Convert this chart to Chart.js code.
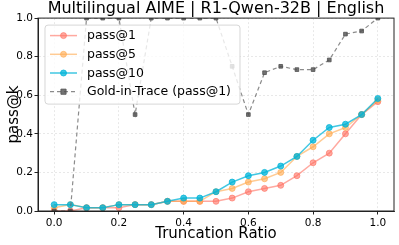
<!DOCTYPE html>
<html>
<head>
<meta charset="utf-8">
<script src="https://cdn.jsdelivr.net/npm/chart.js@4"></script>
<style>
  html, body { margin: 0; padding: 0; background: #fff; }
  #chart { display: block; }
</style>
</head>
<body>
<canvas id="chart" width="399" height="245"></canvas>
<script>
// Data
const ratios = [0.0, 0.05, 0.1, 0.15, 0.2, 0.25, 0.3, 0.35, 0.4, 0.45, 0.5,
                0.55, 0.6, 0.65, 0.7, 0.75, 0.8, 0.85, 0.9, 0.95, 1.0];
const pass1 = [0.0, 0.0, 0.017, 0.017, 0.017, 0.033, 0.033, 0.05, 0.05, 0.05, 0.05,
               0.067, 0.1, 0.117, 0.133, 0.183, 0.25, 0.3, 0.4, 0.5, 0.567];
const pass5 = [0.017, 0.033, 0.017, 0.017, 0.033, 0.033, 0.033, 0.05, 0.05, 0.05, 0.1,
               0.117, 0.15, 0.167, 0.2, 0.283, 0.333, 0.4, 0.433, 0.5, 0.575];
const pass10 = [0.033, 0.033, 0.017, 0.017, 0.033, 0.033, 0.033, 0.05, 0.067, 0.067, 0.1,
                0.15, 0.183, 0.2, 0.233, 0.283, 0.367, 0.433, 0.45, 0.5, 0.583];
const goldInTrace = [0.0, 0.0, 1.0, 1.0, 1.0, 0.5, 1.0, 1.0, 1.0, 1.0, 1.0,
                     0.75, 0.5, 0.717, 0.75, 0.733, 0.733, 0.783, 0.917, 0.933, 1.0];
const xTicks = [0.0, 0.2, 0.4, 0.6, 0.8, 1.0];
const yTicks = [0.0, 0.2, 0.4, 0.6, 0.8, 1.0];

Chart.defaults.font.family = "'DejaVu Sans', sans-serif";
Chart.defaults.color = '#000';

const toPoints = ys => ratios.map((x, i) => ({x: x, y: ys[i]}));

const series = function(label, ys, color, order) {
    return {
        label: label,
        data: toPoints(ys),
        borderColor: color,
        backgroundColor: color,
        pointBackgroundColor: color,
        pointBorderColor: color,
        borderWidth: 1.5,
        pointRadius: 3,
        pointBorderWidth: 1,
        pointStyle: 'circle',
        clip: 0,
        order: order
    };
}

// Top/right spines like the matplotlib frame
const framePlugin = {
    id: 'frame',
    afterDatasetsDraw(chart) {
        const {ctx, chartArea: a} = chart;
        ctx.save();
        ctx.strokeStyle = '#222';
        ctx.lineWidth = 1;
        ctx.strokeRect(a.left, a.top, a.right - a.left, a.bottom - a.top);
        ctx.restore();
    }
};

// Legend boxed inside the upper left of the plot
const insideLegend = {
    id: 'insideLegend',
    afterDraw(chart) {
        const {ctx, chartArea: a} = chart;
        const x0 = a.left + 7, y0 = a.top + 7;
        const w = 195, h = 79, rowH = 18.7;
        ctx.save();
        ctx.beginPath();
        ctx.roundRect(x0, y0, w, h, 3);
        ctx.fillStyle = 'rgba(255,255,255,0.8)';
        ctx.fill();
        ctx.strokeStyle = 'rgba(204,204,204,0.8)';
        ctx.lineWidth = 1;
        ctx.stroke();

        const ds = chart.data.datasets;
        ds.forEach((d, i) => {
            const y = y0 + 10.5 + i * rowH;
            const mx = x0 + 18.5;
            ctx.strokeStyle = d.borderColor;
            ctx.lineWidth = d.borderWidth;
            ctx.setLineDash(d.borderDash || []);
            ctx.beginPath();
            ctx.moveTo(x0 + 5, y);
            ctx.lineTo(x0 + 32, y);
            ctx.stroke();
            ctx.setLineDash([]);

            ctx.fillStyle = d.pointBackgroundColor;
            ctx.strokeStyle = d.pointBorderColor;
            ctx.lineWidth = d.pointBorderWidth;
            ctx.beginPath();
            if (d.pointStyle === 'rect') {
                ctx.rect(mx - d.pointRadius, y - d.pointRadius, d.pointRadius * 2, d.pointRadius * 2);
            } else {
                ctx.arc(mx, y, d.pointRadius, 0, Math.PI * 2);
            }
            ctx.fill();
            ctx.stroke();

            ctx.fillStyle = '#000';
            ctx.font = "12.5px 'DejaVu Sans'";
            ctx.textAlign = 'left';
            ctx.textBaseline = 'middle';
            ctx.fillText(d.label, x0 + 42, y + 0.5);
        });
        ctx.restore();
    }
};

const gold = series('Gold-in-Trace (pass@1)', goldInTrace, 'rgba(110,110,110,0.8)', 0);
gold.borderDash = [4, 3];
gold.borderWidth = 1.2;
gold.pointStyle = 'rect';
gold.pointRadius = 2.6;
gold.pointBackgroundColor = 'rgba(80,80,80,0.8)';
gold.pointBorderColor = 'rgba(80,80,80,0.8)';

const ctx = document.getElementById('chart');

new Chart(ctx, {
    type: 'line',
    data: {
        datasets: [
            series('pass@1', pass1, 'rgba(255,111,97,0.6)', 3),
            series('pass@5', pass5, 'rgba(255,169,77,0.6)', 2),
            series('pass@10', pass10, 'rgba(0,180,216,0.75)', 1),
            gold
        ]
    },
    options: {
        responsive: false,
        animation: false,
        layout: {
            padding: {left: 0, right: 1, top: 0, bottom: 0}
        },

        // Scales
        scales: {
            x: {
                type: 'linear',
                min: -0.05,
                max: 1.05,
                afterBuildTicks: s => { s.ticks = xTicks.map(v => ({value: v})); },
                afterFit: s => {
                    s.height = 34;
                    s.paddingLeft = 0;
                    s.paddingRight = 0;
                },
                ticks: {
                    font: {size: 10.5},
                    padding: 2,
                    maxRotation: 0,
                    callback: v => v.toFixed(1)
                },
                grid: {
                    color: '#e3e3e3',
                    lineWidth: 0.8,
                    tickColor: '#222',
                    tickLength: 3.5,
                    tickWidth: 1
                },
                border: {display: true, color: '#222', width: 1, dash: [2, 2]},
                title: {
                    display: true,
                    text: 'Truncation Ratio',
                    font: {size: 15},
                    padding: {top: 0, bottom: 2}
                }
            },
            y: {
                min: 0,
                max: 1,
                afterBuildTicks: s => { s.ticks = yTicks.map(v => ({value: v})); },
                afterFit: s => { s.width = 38; },
                ticks: {
                    font: {size: 10.5},
                    padding: 1.5,
                    callback: v => v.toFixed(1)
                },
                grid: {
                    color: '#e3e3e3',
                    lineWidth: 0.8,
                    tickColor: '#222',
                    tickLength: 3.5,
                    tickWidth: 1
                },
                border: {display: true, color: '#222', width: 1, dash: [2, 2]},
                title: {
                    display: true,
                    text: 'pass@k',
                    font: {size: 15},
                    padding: {top: 5.5, bottom: 0}
                }
            }
        },

        // Title
        plugins: {
            legend: {display: false},
            tooltip: {enabled: false},
            title: {
                display: true,
                text: 'Multilingual AIME | R1-Qwen-32B | English',
                fullSize: false,
                font: {size: 16, weight: 'normal', lineHeight: 1.1},
                color: '#000',
                padding: {top: 0, bottom: 0.5}
            }
        }
    },
    plugins: [framePlugin, insideLegend]
});
</script>
</body>
</html>
